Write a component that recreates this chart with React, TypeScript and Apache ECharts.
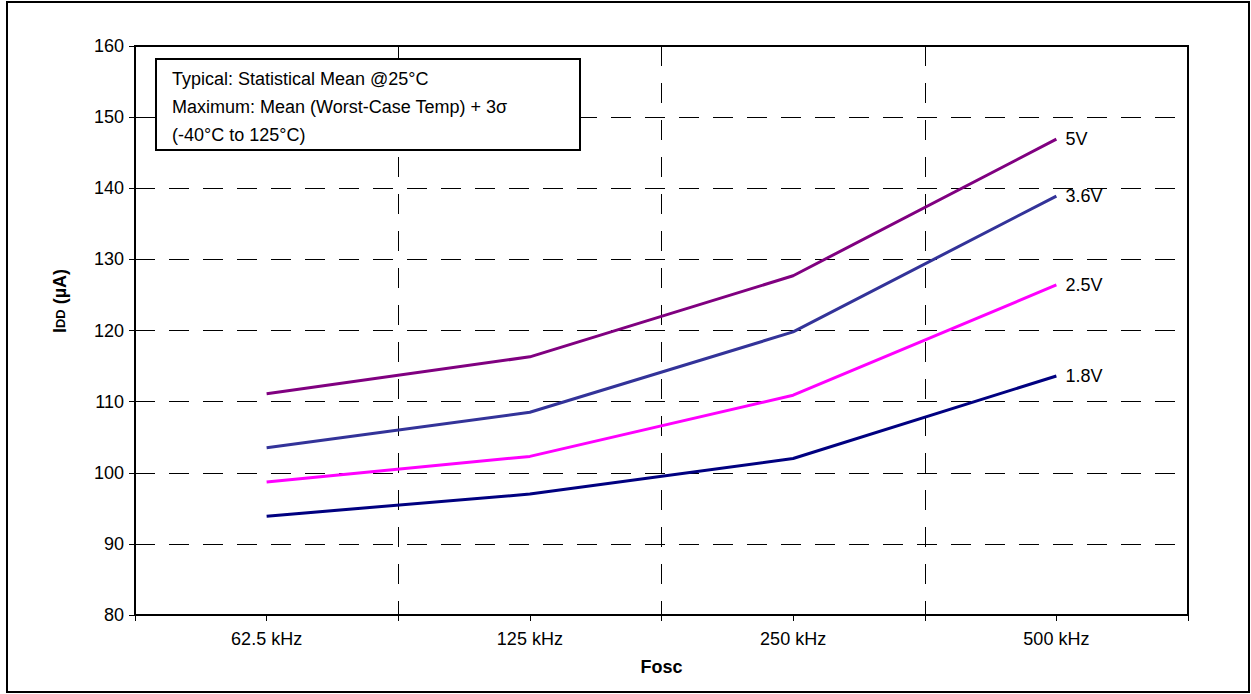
import React, { useEffect, useRef } from "react";
import * as echarts from "echarts";

const categories = ["62.5 kHz", "125 kHz", "250 kHz", "500 kHz"];
const v5 = [111.1, 116.3, 127.7, 146.9];
const v36 = [103.5, 108.5, 119.8, 138.9];
const v25 = [98.7, 102.3, 110.9, 126.4];
const v18 = [93.9, 97.0, 102.0, 113.6];
const seriesNames = ["5V", "3.6V", "2.5V", "1.8V"];
const seriesColors = ["#800080", "#333399", "#FF00FF", "#000080"];
const noteLines = [
  "Typical: Statistical Mean @25°C",
  "Maximum: Mean (Worst-Case Temp) + 3σ",
  "(-40°C to 125°C)",
];

const FONT = "'Liberation Sans', Arial, sans-serif";

export default function App() {
  const ref = useRef<HTMLDivElement>(null);
  useEffect(() => {
    if (!ref.current) return;
    const chart = echarts.init(ref.current, undefined, { renderer: "svg" });
    const values = [v5, v36, v25, v18];
    chart.setOption({
      animation: false,
      backgroundColor: "#ffffff",
      textStyle: { fontFamily: FONT },
      grid: {
        left: 135,
        right: 63,
        top: 46,
        bottom: 79,
        show: true,
        borderColor: "#000",
        borderWidth: 2,
        backgroundColor: "transparent",
      },
      xAxis: [
        {
          type: "category",
          data: categories,
          boundaryGap: true,
          axisLine: { show: true, lineStyle: { color: "#000", width: 2 } },
          axisTick: { show: true, inside: false, length: 6, lineStyle: { color: "#000", width: 1 } },
          axisLabel: { color: "#000", fontSize: 18, margin: 15, fontFamily: FONT },
          splitLine: { show: true, lineStyle: { color: "#000", width: 1, type: [20, 17] } },
          name: "Fosc",
          nameLocation: "middle",
          nameGap: 43,
          nameTextStyle: { color: "#000", fontSize: 18, fontWeight: "bold", fontFamily: FONT },
        },
        {
          type: "category",
          data: categories,
          boundaryGap: true,
          position: "bottom",
          axisLine: { show: false },
          axisTick: { show: true, alignWithLabel: true, length: 6, lineStyle: { color: "#000", width: 1 } },
          axisLabel: { show: false },
          splitLine: { show: false },
        },
      ],
      yAxis: {
        type: "value",
        min: 80,
        max: 160,
        interval: 10,
        axisLine: { show: true, lineStyle: { color: "#000", width: 2 } },
        axisTick: { show: true, length: 6, lineStyle: { color: "#000", width: 1 } },
        axisLabel: { color: "#000", fontSize: 18, margin: 11, fontFamily: FONT },
        splitLine: { show: true, lineStyle: { color: "#000", width: 1, type: [20, 14] } },
      },
      series: values.map((d, i) => ({
        type: "line",
        name: seriesNames[i],
        data: d,
        xAxisIndex: 0,
        symbol: "none",
        lineStyle: { color: seriesColors[i], width: 3 },
        itemStyle: { color: seriesColors[i] },
        endLabel: {
          show: true,
          formatter: seriesNames[i],
          color: "#000",
          fontSize: 18,
          distance: 9,
          fontFamily: FONT,
        },
      })),
      graphic: [
        {
          type: "rect",
          shape: { x: 7, y: 2, width: 1242, height: 690 },
          style: { fill: "none", stroke: "#000", lineWidth: 2 },
          silent: true,
        },
        {
          type: "rect",
          shape: { x: 156, y: 59, width: 424, height: 91 },
          style: { fill: "#fff", stroke: "#000", lineWidth: 2 },
          z: 100,
        },
        ...noteLines.map((t, i) => ({
          type: "text",
          x: 172,
          y: 79 + i * 28,
          z: 101,
          style: {
            text: t,
            fill: "#000",
            font: `18px ${FONT}`,
            textVerticalAlign: "middle",
            textAlign: "left",
          },
        })),
        {
          type: "text",
          x: 60,
          y: 301,
          rotation: Math.PI / 2,
          z: 101,
          style: {
            text: "{a|I}{b|DD}{a| (µA)}",
            textAlign: "center",
            textVerticalAlign: "middle",
            fill: "#000",
            rich: {
              a: { fontSize: 18, fontWeight: "bold", fontFamily: FONT, fill: "#000" },
              b: { fontSize: 13, fontWeight: "bold", fontFamily: FONT, fill: "#000" },
            },
          },
        },
      ],
    });
    return () => chart.dispose();
  }, []);
  return (
    <div
      ref={ref}
      style={{ position: "fixed", left: 0, top: 0, width: 1251, height: 694 }}
    />
  );
}
